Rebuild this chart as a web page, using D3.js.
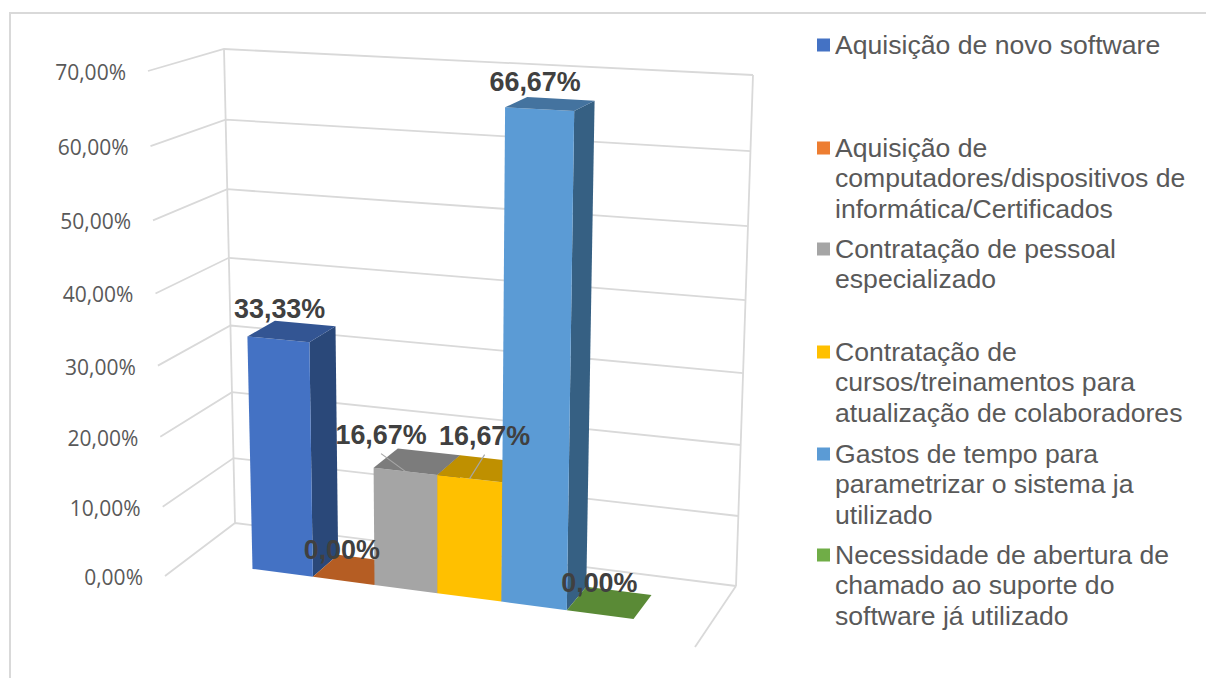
<!DOCTYPE html>
<html>
<head>
<meta charset="utf-8">
<script src="https://d3js.org/d3.v7.min.js"></script>
<title>Bar Chart 3D</title>
<style>
html, body { margin: 0; padding: 0; background: #fff; overflow: hidden; }
</style>
</head>
<body>
<script type="text/javascript">

var categories = [
  "Aquisição de novo software",
  "Aquisição de computadores/dispositivos de informática/Certificados",
  "Contratação de pessoal especializado",
  "Contratação de cursos/treinamentos para atualização de colaboradores",
  "Gastos de tempo para parametrizar o sistema ja utilizado",
  "Necessidade de abertura de chamado ao suporte do software já utilizado"
];
var values = [33.33, 0, 16.67, 16.67, 66.67, 0];
var valueLabels = ["33,33%", "0,00%", "16,67%", "16,67%", "66,67%", "0,00%"];
var tickValues = [0, 10, 20, 30, 40, 50, 60, 70];
var tickLabels = ["0,00%", "10,00%", "20,00%", "30,00%", "40,00%", "50,00%", "60,00%", "70,00%"];

var legendLines = [
  ["Aquisição de novo software"],
  ["Aquisição de", "computadores/dispositivos de", "informática/Certificados"],
  ["Contratação de pessoal", "especializado"],
  ["Contratação de", "cursos/treinamentos para", "atualização de colaboradores"],
  ["Gastos de tempo para", "parametrizar o sistema ja", "utilizado"],
  ["Necessidade de abertura de", "chamado ao suporte do", "software já utilizado"]
];
var legendY = [45, 148, 249, 352, 454, 555];

var frontColors = ["#4472C4", "#ED7D31", "#A5A5A5", "#FFC000", "#5B9BD5", "#70AD47"];
var topColors   = ["#335593", "#B55D23", "#7C7C7C", "#BF9000", "#44739F", "#5A8A36"];
var sideColors  = ["#2A4879", "#9C5020", "#6B6B6B", "#A37B00", "#366083", "#4C7530"];

//label offsets from the middle of each bar top, and which ones have a leader line
var labelDx = [-12, -14, -36, 4, -15, -10];
var labelDy = [-22, -20, -27, -33, -22, -20];
var hasLeader = [false, false, true, true, false, false];

var width = 1206, height = 678;

var svg = d3.select("body").append("svg")
    .attr("width", width)
    .attr("height", height)
    .style("display", "block");

//corners of the 3D box [x, y]
var floorFL = [165, 576], floorFR = [695, 647], floorBL = [235, 523], floorBR = [736, 586];
var topFL = [148, 71], topFR = [711, 100], topBL = [224, 49], topBR = [753, 75];

var uScale = d3.scaleBand().domain(d3.range(categories.length)).range([0.137, 0.868]).paddingInner(0).paddingOuter(0);
var vScale = d3.scaleLinear().domain([0, 70]).range([0, 1]);
var depthFront = 0.3, depthBack = 0.7;

//perspective squeeze of a 0..1 coordinate
function persp(t, r) { return t / (t + r * (1 - t)); }
function mix(a, b, t) { return [a[0] + (b[0] - a[0]) * t, a[1] + (b[1] - a[1]) * t]; }

//u across, v up, w into the screen, all 0..1
function project(u, v, w) {
  var pu = persp(u, 1.085), pv = persp(v, 1.05);
  var front = mix(mix(floorFL, floorFR, pu), mix(topFL, topFR, pu), pv);
  var back = mix(mix(floorBL, floorBR, pu), mix(topBL, topBR, pu), pv);
  return mix(front, back, w);
}
function poly(points) {
  return points.map(function(p) { return p[0].toFixed(1) + "," + p[1].toFixed(1); }).join(" ");
}

//outer frame
svg.append("path")
    .attr("d", "M10,678V13H1206")
    .attr("fill", "none")
    .attr("stroke", "#d9d9d9")
    .attr("stroke-width", 2);

//walls
var grid = svg.append("g").attr("fill", "none").attr("stroke", "#d9d9d9").attr("stroke-width", 1.8);
tickValues.forEach(function(t) {
  var v = vScale(t);
  grid.append("polyline").attr("points", poly([project(0, v, 0), project(0, v, 1), project(1, v, 1)]));
});
grid.append("polyline").attr("points", poly([project(0, 0, 1), project(0, 1, 1)]));
grid.append("polyline").attr("points", poly([project(1, 0, 1), project(1, 1, 1)]));
grid.append("polyline").attr("points", poly([project(1, 0, 1), project(1, 0, 0)]));

//axis labels
svg.append("g").selectAll("text")
    .data(tickValues)
    .enter().append("text")
    .attr("x", function(t) { return project(0, vScale(t), 0)[0] - 22; })
    .attr("y", function(t) { return project(0, vScale(t), 0)[1] + 9; })
    .attr("text-anchor", "end")
    .attr("font-family", "'Open Sans', sans-serif")
    .attr("font-size", 21)
    .attr("fill", "#595959")
    .text(function(t, i) { return tickLabels[i]; });

//bars, left to right
var bars = svg.append("g");
values.forEach(function(val, i) {
  var u0 = uScale(i), u1 = u0 + uScale.bandwidth(), v = vScale(val);
  var g = bars.append("g");
  if (val > 0) {
    g.append("polygon").attr("fill", sideColors[i])
      .attr("points", poly([project(u1, 0, depthFront), project(u1, 0, depthBack), project(u1, v, depthBack), project(u1, v, depthFront)]));
    g.append("polygon").attr("fill", frontColors[i])
      .attr("points", poly([project(u0, 0, depthFront), project(u1, 0, depthFront), project(u1, v, depthFront), project(u0, v, depthFront)]));
  }
  g.append("polygon").attr("fill", topColors[i])
    .attr("points", poly([project(u0, v, depthFront), project(u1, v, depthFront), project(u1, v, depthBack), project(u0, v, depthBack)]));
});

//data labels
var labels = svg.append("g");
values.forEach(function(val, i) {
  var um = uScale(i) + uScale.bandwidth() / 2, v = vScale(val);
  var mid = project(um, v, 0.5);
  var lx = mid[0] + labelDx[i], ly = mid[1] + labelDy[i];
  if (hasLeader[i]) {
    var end = project(um, v, depthFront);
    labels.append("line")
      .attr("x1", lx).attr("y1", ly + 19)
      .attr("x2", end[0]).attr("y2", end[1])
      .attr("stroke", "#a6a6a6").attr("stroke-width", 1.2);
  }
  labels.append("text")
    .attr("x", lx)
    .attr("y", ly + 9)
    .attr("text-anchor", "middle")
    .attr("font-family", "'Liberation Sans', Arial, sans-serif")
    .attr("font-weight", "bold")
    .attr("font-size", 26.9)
    .attr("fill", "#404040")
    .text(valueLabels[i]);
});

//legend
var legend = svg.append("g");
legendLines.forEach(function(lines, i) {
  legend.append("rect")
    .attr("x", 817).attr("y", legendY[i] - 6.5)
    .attr("width", 13).attr("height", 13)
    .attr("fill", frontColors[i]);
  lines.forEach(function(line, j) {
    legend.append("text")
      .attr("x", 835)
      .attr("y", legendY[i] + 9 + j * 30.3)
      .attr("font-family", "'Liberation Sans', Arial, sans-serif")
      .attr("font-size", 26.6)
      .attr("fill", "#595959")
      .text(line);
  });
});

</script>
</body>
</html>
